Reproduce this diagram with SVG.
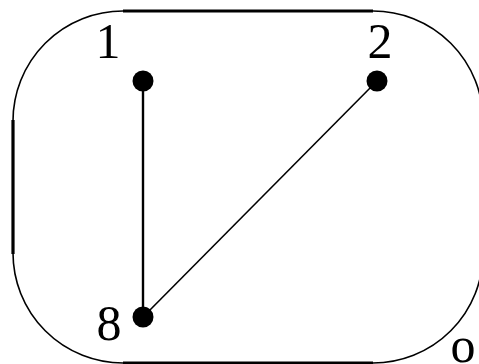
<svg xmlns="http://www.w3.org/2000/svg" width="479" height="364" viewBox="0 0 479 364">
<style>
.thin{fill:none;stroke:#000;stroke-width:1.6}
.thick{fill:none;stroke:#000;stroke-width:3.2}
.lbl{font-family:"Liberation Serif","DejaVu Serif",serif;font-size:50px;fill:#000;text-anchor:middle}
.dot{fill:#000}
</style>
<g id="outline">
<path class="thin" d="M123,11 A110,110 0 0 0 13,121"/>
<path class="thin" d="M13,253 A110,110 0 0 0 123,363"/>
<path class="thin" d="M373,11 A110,110 0 0 1 483,121"/>
<path class="thin" d="M483,253 A110,110 0 0 1 373,363"/>
<line class="thick" x1="123" y1="11" x2="373" y2="11"/>
<line class="thick" x1="13" y1="120" x2="13" y2="254"/>
<line class="thick" x1="123" y1="363" x2="373" y2="363"/>
</g>
<g id="connectors">
<line x1="143" y1="81" x2="143" y2="317" stroke="#000" stroke-width="2.4"/>
<line x1="143" y1="317" x2="377" y2="81" stroke="#000" stroke-width="1.6"/>
</g>
<g id="node1"><circle class="dot" cx="143" cy="81" r="10.5"/><text class="lbl" x="108" y="58">1</text></g>
<g id="node2"><circle class="dot" cx="377" cy="81" r="10.5"/><text class="lbl" x="380" y="58">2</text></g>
<g id="node8"><circle class="dot" cx="143" cy="317" r="10.5"/><text class="lbl" x="109" y="340">8</text></g>
<g id="label-o"><text class="lbl" x="463" y="362" font-size="46">o</text></g>
</svg>
